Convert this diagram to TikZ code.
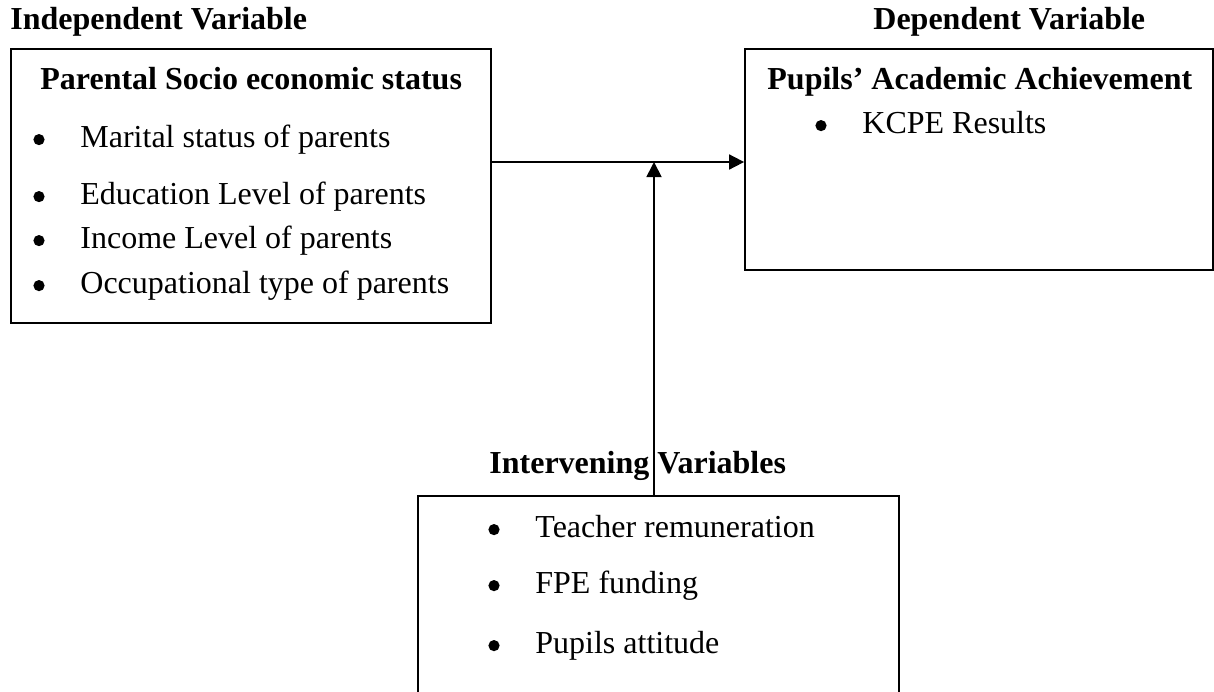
\documentclass[tikz,border=0pt]{standalone}
\usepackage{fontspec}
\setmainfont{Liberation Serif}
\usepackage{tikz}
\usetikzlibrary{arrows.meta,positioning,fit}
\definecolor{framemain}{RGB}{0,0,0}
\newcommand{\bulitem}[1]{\makebox[23.5pt][l]{\tikz[baseline=0pt,x=1pt,y=1pt]\fill (2.8,3.7) circle[radius=2.8];}#1}

\begin{document}
\begin{tikzpicture}[x=0.5pt,y=-0.5pt,
    font=\fontsize{16}{19.2}\selectfont,
    varbox/.style={draw=framemain,line width=0.9pt,inner sep=0pt},
    txt/.style={anchor=base west,inner sep=0pt},
    head/.style={txt,font=\fontsize{16}{19.2}\selectfont\bfseries},
    link/.style={line width=0.9pt,-{Triangle[length=7.5pt,width=7.5pt]}}]
    \clip (0,0) rectangle (1214,691);
    % frames
    \node[varbox,fit={(11,49) (491,323)}] (socio) {};
    \node[varbox,fit={(745,49) (1213,270)}] (achieve) {};
    \node[varbox,fit={(418,496) (899,720)}] (inter) {};
    % headings
    \node[head] (indep) at (10,29) {Independent Variable};
    \node[head] (dep) at (873,29) {Dependent Variable};
    \node[head] (intervh) at (489,473) {Intervening Variables};
    \node[head] (socioh) at (40,89) {Parental Socio economic status};
    \node[head] (achieveh) at (767,89) {Pupils’ Academic Achievement};
    % items
    \node[txt] (s1) at (33,147) {\bulitem{Marital status of parents}};
    \node[txt] (s2) at (33,204) {\bulitem{Education Level of parents}};
    \node[txt] (s3) at (33,248) {\bulitem{Income Level of parents}};
    \node[txt] (s4) at (33,293) {\bulitem{Occupational type of parents}};
    \node[txt] (a1) at (815,133) {\bulitem{KCPE Results}};
    \node[txt] (i1) at (488,537) {\bulitem{Teacher remuneration}};
    \node[txt] (i2) at (488,593) {\bulitem{FPE funding}};
    \node[txt] (i3) at (488,653) {\bulitem{Pupils attitude}};
    % connectors
    \coordinate (join) at (654,162);
    \draw[link] (socio.east |- join) -- (achieve.west |- join);
    \draw[link] (join |- inter.north) -- (join);
  \end{tikzpicture}
\end{document}
